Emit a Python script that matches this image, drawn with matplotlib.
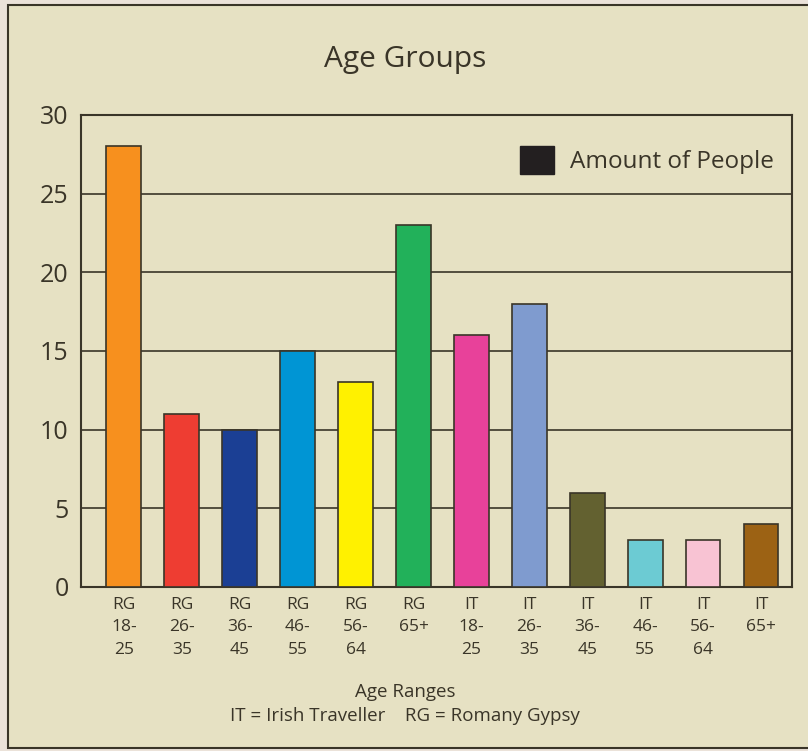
import matplotlib
matplotlib.use("Agg")
import matplotlib.pyplot as plt
import matplotlib.patches as m_patches

plt.rcParams['font.family'] = ['Open Sans', 'DejaVu Sans']

groups = ["RG", "RG", "RG", "RG", "RG", "RG", "IT", "IT", "IT", "IT", "IT", "IT"]
ranges = ["18-\n25", "26-\n35", "36-\n45", "46-\n55", "56-\n64", "65+",
          "18-\n25", "26-\n35", "36-\n45", "46-\n55", "56-\n64", "65+"]
people = [28, 11, 10, 15, 13, 23, 16, 18, 6, 3, 3, 4]
bar_colors = ["#f7901e", "#ee3d32", "#1b3f94", "#0095d4", "#fff100", "#22b15a",
              "#e8419a", "#7f9bcf", "#636130", "#6ccbd3", "#f8c3d3", "#9c6214"]

PANEL = "#e6e1c3"
INK = "#3a3528"

fig = plt.figure(figsize=(8.08, 7.51), dpi=100)
fig.patch.set_facecolor("#ebe2d9")
# panel with a border, running off the right edge
fig.patches.append(m_patches.Rectangle((8 / 808, 3 / 751), 1.0, 743 / 751,
                                       transform=fig.transFigure, facecolor=PANEL,
                                       edgecolor=INK, linewidth=1.5, zorder=-10))

ax = fig.add_axes([81 / 808, 1 - 587 / 751, 711 / 808, 472 / 751])
ax.set_zorder(5)
ax.set_facecolor(PANEL)

xs = list(range(len(people)))
ax.bar(xs, people, width=0.6, color=bar_colors, edgecolor=INK, linewidth=1.2, zorder=3,
       label="_nolegend_")
ax.set_xlim(-0.74, 11.535)
ax.set_ylim(0, 30)
ax.set_yticks(range(0, 31, 5))
ax.grid(axis="y", color=INK, linewidth=1.2, zorder=0)
ax.set_axisbelow(True)
for s in ax.spines.values():
    s.set_color(INK)
    s.set_linewidth(1.5)

ax.set_xticks(xs)
ax.set_xticklabels([f"{g}\n{r}" for g, r in zip(groups, ranges)], fontsize=12.5,
                   color=INK, linespacing=1.55, va="top")
ax.tick_params(axis="x", length=0, pad=7)
ax.tick_params(axis="y", length=0, pad=9, labelsize=18, labelcolor=INK)

handle = m_patches.Patch(facecolor="#231f20", edgecolor="#231f20", label="Amount of People")
ax.legend(handles=[handle], loc="upper right", bbox_to_anchor=(1.005, 0.98), frameon=False,
          fontsize=17.5, handlelength=1.4, handleheight=1.35, handletextpad=0.65,
          labelcolor=INK)

fig.text(405 / 808, 1 - 59 / 751, "Age Groups", ha="center", va="center",
         fontsize=21.5, color=INK)
fig.text(405 / 808, 1 - 692 / 751, "Age Ranges", ha="center", va="center",
         fontsize=13.5, color=INK)
fig.text(405 / 808, 1 - 716 / 751, "IT = Irish Traveller    RG = Romany Gypsy",
         ha="center", va="center", fontsize=13.5, color=INK)

fig.savefig("out.png", dpi=100, facecolor=fig.get_facecolor())
